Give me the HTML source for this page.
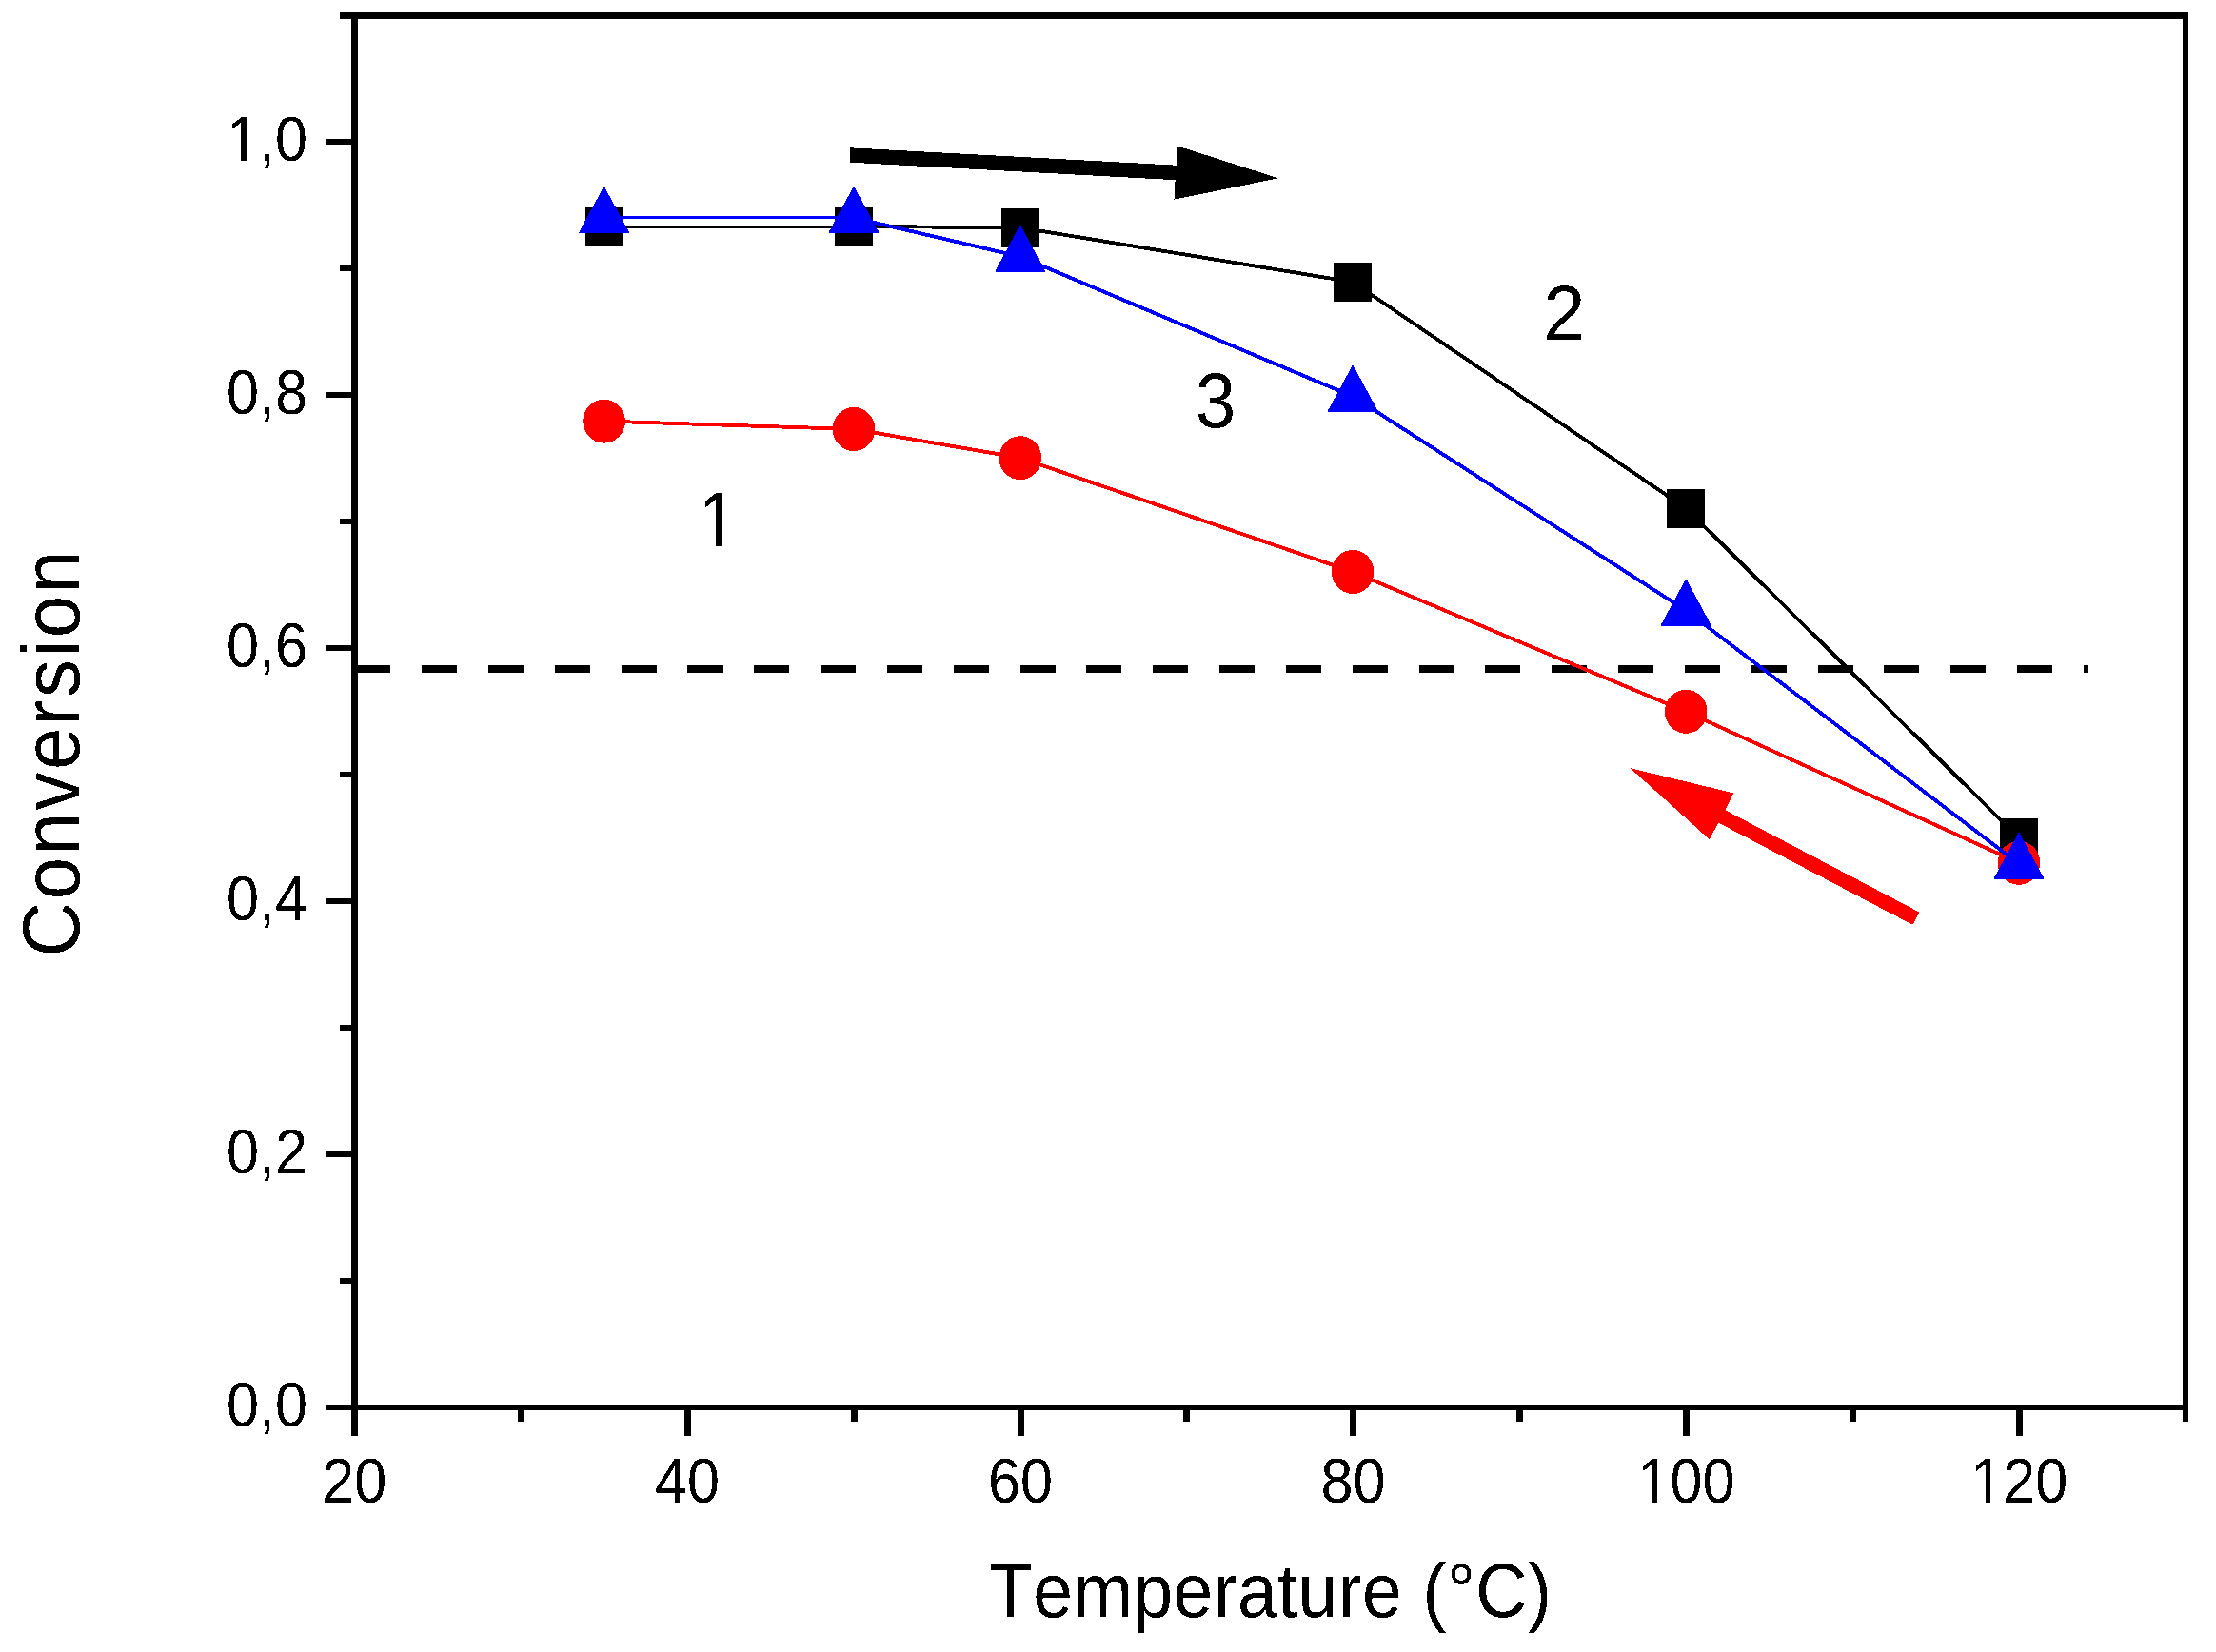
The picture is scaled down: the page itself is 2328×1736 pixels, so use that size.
<!DOCTYPE html>
<html lang="en"><head><meta charset="utf-8"><title>Conversion vs Temperature</title>
<style>
html,body{margin:0;padding:0;background:#fff;}
body{width:2328px;height:1736px;overflow:hidden;}
svg{display:block;}
text{font-family:"Liberation Sans",Arial,Helvetica,sans-serif;fill:#000;font-kerning:none;}
.tick{font-size:66.5px;}
.lab{font-size:81px;}
.xt{font-size:79px;letter-spacing:0.44px;}
.yt{font-size:85.5px;letter-spacing:2.9px;}
</style></head><body>
<svg width="2328" height="1736" viewBox="0 0 2328 1736">
<rect x="0" y="0" width="2328" height="1736" fill="#fff"/>
<defs><filter id="alias" filterUnits="userSpaceOnUse" x="0" y="0" width="2328" height="1736" color-interpolation-filters="sRGB"><feComponentTransfer><feFuncA type="discrete" tableValues="0 1"/></feComponentTransfer></filter><clipPath id="c0"><path clip-rule="evenodd" d="M0 0H2328 V1736 H0Z M240.6 161.6 H253.0 V171.6 H240.6 Z M259.0 161.6 H271.0 V171.6 H259.0 Z"/></clipPath><clipPath id="c1"><path clip-rule="evenodd" d="M0 0H2328 V1736 H0Z M1723.0 1571.6 H1736.0 V1581.6 H1723.0 Z M1741.0 1571.6 H1753.4 V1581.6 H1741.0 Z"/></clipPath><clipPath id="c2"><path clip-rule="evenodd" d="M0 0H2328 V1736 H0Z M2072.8 1571.6 H2086.0 V1581.6 H2072.8 Z M2091.0 1571.6 H2103.2 V1581.6 H2091.0 Z"/></clipPath><clipPath id="c3"><path clip-rule="evenodd" d="M0 0H2328 V1736 H0Z M737.6 565.9 H752.0 V577.0 H737.6 Z M759.0 565.9 H773.0 V577.0 H759.0 Z"/></clipPath></defs>
<g shape-rendering="crispEdges">
<path d="M373.2 699 H410.3 V707 H373.2 Z M443.0 699 H480.1 V707 H443.0 Z M512.9 699 H550.0 V707 H512.9 Z M582.7 699 H619.8 V707 H582.7 Z M652.5 699 H689.6 V707 H652.5 Z M722.4 699 H759.5 V707 H722.4 Z M792.2 699 H829.3 V707 H792.2 Z M862.0 699 H899.1 V707 H862.0 Z M931.8 699 H968.9 V707 H931.8 Z M1001.7 699 H1038.8 V707 H1001.7 Z M1071.5 699 H1108.6 V707 H1071.5 Z M1141.3 699 H1178.4 V707 H1141.3 Z M1211.2 699 H1248.3 V707 H1211.2 Z M1281.0 699 H1318.1 V707 H1281.0 Z M1350.8 699 H1387.9 V707 H1350.8 Z M1420.6 699 H1457.7 V707 H1420.6 Z M1490.5 699 H1527.6 V707 H1490.5 Z M1560.3 699 H1597.4 V707 H1560.3 Z M1630.1 699 H1667.2 V707 H1630.1 Z M1700.0 699 H1737.1 V707 H1700.0 Z M1769.8 699 H1806.9 V707 H1769.8 Z M1839.6 699 H1876.7 V707 H1839.6 Z M1909.5 699 H1946.6 V707 H1909.5 Z M1979.3 699 H2016.4 V707 H1979.3 Z M2049.1 699 H2086.2 V707 H2049.1 Z M2118.9 699 H2156.0 V707 H2118.9 Z M2188.8 699 H2194.2 V707 H2188.8 Z" fill="#000"/>
</g>
<g shape-rendering="crispEdges">
<line x1="634.6" y1="238.0" x2="897.0" y2="238.0" stroke="#000" stroke-width="3"/>
<line x1="897.0" y1="238.0" x2="1071.8" y2="239.2" stroke="#000" stroke-width="3.9"/>
<line x1="1071.8" y1="239.2" x2="1421.2" y2="296.4" stroke="#000" stroke-width="3.9"/>
<line x1="1421.2" y1="296.4" x2="1771.2" y2="534.2" stroke="#000" stroke-width="3.9"/>
<line x1="1771.2" y1="534.2" x2="2121.0" y2="880.7" stroke="#000" stroke-width="3.9"/>
<rect x="614.6" y="217.5" width="40" height="41" fill="#000"/>
<rect x="877.0" y="217.5" width="40" height="41" fill="#000"/>
<rect x="1051.8" y="218.7" width="40" height="41" fill="#000"/>
<rect x="1401.2" y="275.9" width="40" height="41" fill="#000"/>
<rect x="1751.2" y="513.7" width="40" height="41" fill="#000"/>
<rect x="2101.0" y="860.2" width="40" height="41" fill="#000"/>
<line x1="634.6" y1="442.6" x2="897.0" y2="451.0" stroke="#f00" stroke-width="3.9"/>
<line x1="897.0" y1="451.0" x2="1071.8" y2="481.2" stroke="#f00" stroke-width="3.9"/>
<line x1="1071.8" y1="481.2" x2="1421.2" y2="601.0" stroke="#f00" stroke-width="3.9"/>
<line x1="1421.2" y1="601.0" x2="1771.2" y2="747.8" stroke="#f00" stroke-width="3.9"/>
<line x1="1771.2" y1="747.8" x2="2121.0" y2="906.8" stroke="#f00" stroke-width="3.9"/>
<ellipse cx="634.6" cy="442.6" rx="22.3" ry="23" fill="#f00"/>
<ellipse cx="897.0" cy="451.0" rx="22.3" ry="23" fill="#f00"/>
<ellipse cx="1071.8" cy="481.2" rx="22.3" ry="23" fill="#f00"/>
<ellipse cx="1421.2" cy="601.0" rx="22.3" ry="23" fill="#f00"/>
<ellipse cx="1771.2" cy="747.8" rx="22.3" ry="23" fill="#f00"/>
<ellipse cx="2121.0" cy="906.8" rx="22.3" ry="23" fill="#f00"/>
<line x1="634.6" y1="228.9" x2="897.0" y2="228.9" stroke="#00f" stroke-width="3"/>
<line x1="897.0" y1="228.9" x2="1071.8" y2="269.7" stroke="#00f" stroke-width="3.9"/>
<line x1="1071.8" y1="269.7" x2="1421.2" y2="416.6" stroke="#00f" stroke-width="3.9"/>
<line x1="1421.2" y1="416.6" x2="1771.2" y2="641.5" stroke="#00f" stroke-width="3.9"/>
<line x1="1771.2" y1="641.5" x2="2121.0" y2="907.8" stroke="#00f" stroke-width="3.9"/>
<polygon points="634.6,196.9 608.9,244.3 660.3,244.3" fill="#00f" stroke="#00f" stroke-width="1.4" stroke-linejoin="round"/>
<polygon points="897.0,196.9 871.3,244.3 922.7,244.3" fill="#00f" stroke="#00f" stroke-width="1.4" stroke-linejoin="round"/>
<polygon points="1071.8,237.7 1046.1,285.1 1097.5,285.1" fill="#00f" stroke="#00f" stroke-width="1.4" stroke-linejoin="round"/>
<polygon points="1421.2,384.6 1395.5,432.0 1446.9,432.0" fill="#00f" stroke="#00f" stroke-width="1.4" stroke-linejoin="round"/>
<polygon points="1771.2,609.5 1745.5,656.9 1796.9,656.9" fill="#00f" stroke="#00f" stroke-width="1.4" stroke-linejoin="round"/>
<polygon points="2121.0,875.8 2095.3,923.2 2146.7,923.2" fill="#00f" stroke="#00f" stroke-width="1.4" stroke-linejoin="round"/>
</g>
<polygon points="892.5,170.7 1234.6,189.2 1233.5,209.7 1342.9,187.3 1236.6,153.3 1235.5,173.7 893.3,155.3" fill="#000" shape-rendering="crispEdges"/>
<polygon points="2016.3,958.6 1812.2,851.2 1821.5,833.5 1712.5,807.2 1795.9,882.2 1805.2,864.5 2009.3,971.8" fill="#f00" shape-rendering="crispEdges"/>
<g fill="#000" shape-rendering="crispEdges">
<rect x="369" y="13" width="7" height="1496"/>
<rect x="2293" y="13" width="6" height="1481"/>
<rect x="357" y="13" width="1942" height="7"/>
<rect x="343" y="1476" width="1956" height="6"/>
<rect x="343" y="1210" width="26" height="6"/>
<rect x="343" y="944" width="26" height="6"/>
<rect x="343" y="678" width="26" height="6"/>
<rect x="343" y="412" width="26" height="6"/>
<rect x="343" y="146" width="26" height="6"/>
<rect x="357" y="1343" width="12" height="6"/>
<rect x="357" y="1077" width="12" height="6"/>
<rect x="357" y="811" width="12" height="6"/>
<rect x="357" y="545" width="12" height="6"/>
<rect x="357" y="279" width="12" height="6"/>
<rect x="719" y="1482" width="7" height="27"/>
<rect x="1069" y="1482" width="7" height="27"/>
<rect x="1418" y="1482" width="7" height="27"/>
<rect x="1768" y="1482" width="7" height="27"/>
<rect x="2118" y="1482" width="7" height="27"/>
<rect x="544" y="1482" width="7" height="12"/>
<rect x="894" y="1482" width="7" height="12"/>
<rect x="1243" y="1482" width="7" height="12"/>
<rect x="1593" y="1482" width="7" height="12"/>
<rect x="1943" y="1482" width="7" height="12"/>
</g>
<g filter="url(#alias)">
<text class="tick" text-anchor="end" transform="translate(323.0 1498.6) scale(0.920 1)">0,0</text>
<text class="tick" text-anchor="end" transform="translate(323.0 1232.6) scale(0.920 1)">0,2</text>
<text class="tick" text-anchor="end" transform="translate(323.0 966.6) scale(0.920 1)">0,4</text>
<text class="tick" text-anchor="end" transform="translate(323.0 700.6) scale(0.920 1)">0,6</text>
<text class="tick" text-anchor="end" transform="translate(323.0 434.6) scale(0.920 1)">0,8</text>
<g clip-path="url(#c0)"><text class="tick" text-anchor="end" transform="translate(323.0 168.6) scale(0.920 1)">1,0</text></g>
<text class="tick" text-anchor="middle" transform="translate(372.3 1578.6) scale(0.920 1)">20</text>
<text class="tick" text-anchor="middle" transform="translate(722.1 1578.6) scale(0.920 1)">40</text>
<text class="tick" text-anchor="middle" transform="translate(1071.9 1578.6) scale(0.920 1)">60</text>
<text class="tick" text-anchor="middle" transform="translate(1421.6 1578.6) scale(0.920 1)">80</text>
<g clip-path="url(#c1)"><text class="tick" text-anchor="middle" transform="translate(1771.4 1578.6) scale(0.920 1)">100</text></g>
<g clip-path="url(#c2)"><text class="tick" text-anchor="middle" transform="translate(2121.2 1578.6) scale(0.920 1)">120</text></g>
<g clip-path="url(#c3)"><text class="lab" text-anchor="start" transform="translate(734.0 574.0) scale(0.900 1)">1</text></g>
<text class="lab" text-anchor="start" transform="translate(1621.6 356.6) scale(0.975 1)">2</text>
<text class="lab" text-anchor="start" transform="translate(1255.9 448.5) scale(0.935 1)">3</text>
<text class="xt" text-anchor="middle" transform="translate(1334.7 1699.0) scale(0.950 1)">Temperature (°C)</text>
<text class="yt" text-anchor="middle" transform="translate(83.3 790.8) rotate(-90) scale(0.93 1)">Conversion</text>
</g>
</svg>
</body></html>
